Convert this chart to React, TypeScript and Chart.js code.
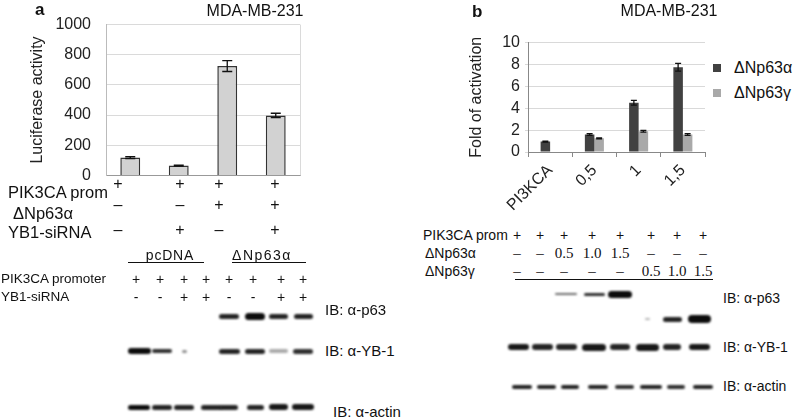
import React, { useEffect, useRef } from "react";
import { Chart, registerables } from "chart.js";

Chart.register(...registerables);

// ---------- data ----------
const lucCategories = ["1", "2", "3", "4"];
const lucValues = [118, 65, 725, 398];
const lucErrors = [6, 3, 36, 14];
const lucTicks = [0, 200, 400, 600, 800, 1000];

const foldCategories = ["PI3KCA", "0,5", "1", "1,5"];
const foldAlpha = [0.95, 1.6, 4.5, 7.75];
const foldAlphaErr = [0.05, 0.08, 0.22, 0.35];
const foldGamma = [null, 1.25, 1.9, 1.6];
const foldGammaErr = [null, 0.05, 0.08, 0.08];
const seriesNames = ["ΔNp63α", "ΔNp63γ"];

const tableARows = ["PIK3CA prom", "ΔNp63α", "YB1-siRNA"];
const tableAValues = [
  ["+", "+", "+", "+"],
  ["–", "–", "+", "+"],
  ["–", "+", "–", "+"],
];
const blotAGroups = ["pcDNA", "ΔNp63α"];
const blotARows = ["PIK3CA promoter", "YB1-siRNA"];
const blotAValues = [
  ["+", "+", "+", "+", "+", "+", "+", "+"],
  ["-", "-", "+", "+", "-", "-", "+", "+"],
];
const blotBRows = ["PIK3CA prom", "ΔNp63α", "ΔNp63γ"];
const blotBValues = [
  ["+", "+", "+", "+", "+", "+", "+", "+"],
  ["–", "–", "0.5", "1.0", "1.5", "–", "–", "–"],
  ["–", "–", "–", "–", "–", "0.5", "1.0", "1.5"],
];
// band: [intensity, thickness, width]
const bandsA_p63 = [null, null, null, null, [0.9, 5, 20], [1, 7, 20], [0.9, 5, 19], [0.9, 5, 19]];
const bandsA_yb1 = [[1, 6, 23], [0.85, 4, 20], [0.45, 3, 5], null, [0.9, 5, 21], [0.9, 5, 20], [0.35, 4, 19], [0.85, 5, 20]];
const bandsA_actin = [[1, 5, 22], [0.9, 5, 20], [0.9, 5, 20], [0.9, 5, 21], [0.9, 5, 18], [0.9, 5, 17], [0.95, 6, 19], [0.95, 6, 22]];
const bandsB_p63a = [null, null, [0.6, 2, 22], [0.85, 3, 21], [1, 7, 24], null, null, null];
const bandsB_p63g = [null, null, null, null, null, [0.3, 2, 5], [0.9, 5, 19], [1, 8, 23]];
const bandsB_yb1 = [[0.95, 6, 21], [0.9, 6, 21], [0.9, 6, 21], [0.95, 7, 24], [0.9, 6, 20], [0.95, 7, 23], [0.9, 6, 18], [0.95, 6, 21]];
const bandsB_actin = [[0.9, 4, 20], [0.9, 4, 19], [0.9, 4, 18], [0.9, 4, 20], [0.85, 4, 19], [0.9, 4, 22], [0.85, 4, 18], [0.9, 4, 20]];

// ---------- layout ----------
const FONT = "'Liberation Sans', Arial, sans-serif";
const SERIF = "'Liberation Serif', 'Times New Roman', serif";
const tableAX = [118, 180, 219, 275];
const laneAX = [136, 160, 184, 206, 229, 253, 281, 303];
const bandAX = [139, 162, 184, 211, 229, 255, 278, 303];
const laneBX = [517, 540, 564, 592, 620, 651, 677, 703];
const bandBX = [518, 542, 566, 594, 620, 647, 672, 699];

const errorBarPlugin = {
  id: "errorBars",
  afterDatasetsDraw(chart: any) {
    const ctx = chart.ctx;
    const yScale = chart.scales.y;
    chart.data.datasets.forEach((ds: any, di: number) => {
      if (!ds.errors) return;
      const meta = chart.getDatasetMeta(di);
      meta.data.forEach((bar: any, i: number) => {
        const v = ds.data[i];
        const e = ds.errors[i];
        if (v == null || e == null) return;
        const x = bar.x;
        const yTop = yScale.getPixelForValue(v + e);
        const yBot = yScale.getPixelForValue(v - e);
        const cap = ds.capWidth || 3;
        ctx.save();
        ctx.strokeStyle = "#111";
        ctx.lineWidth = 1.3;
        ctx.beginPath();
        ctx.moveTo(x, yTop);
        ctx.lineTo(x, yBot);
        ctx.moveTo(x - cap, yTop);
        ctx.lineTo(x + cap, yTop);
        ctx.moveTo(x - cap, yBot);
        ctx.lineTo(x + cap, yBot);
        ctx.stroke();
        ctx.restore();
      });
    });
  },
};

const rightBorderPlugin = {
  id: "rightBorder",
  beforeDatasetsDraw(chart: any) {
    const { ctx, chartArea } = chart;
    ctx.save();
    ctx.strokeStyle = "#dadada";
    ctx.lineWidth = 1;
    ctx.beginPath();
    ctx.moveTo(Math.round(chartArea.right) + 0.5, chartArea.top);
    ctx.lineTo(Math.round(chartArea.right) + 0.5, chartArea.bottom);
    ctx.stroke();
    ctx.restore();
  },
};

function LuciferaseChart() {
  const ref = useRef<HTMLCanvasElement>(null);
  useEffect(() => {
    const chart = new Chart(ref.current as HTMLCanvasElement, {
      type: "bar",
      data: {
        labels: lucCategories,
        datasets: [
          {
            data: lucValues,
            backgroundColor: "#d2d2d2",
            borderColor: "#333",
            borderWidth: 1.5,
            barPercentage: 0.41,
            categoryPercentage: 1,
            errors: lucErrors,
            capWidth: 5,
          } as any,
        ],
      },
      options: {
        animation: false,
        responsive: false,
        maintainAspectRatio: false,
        layout: { padding: { top: 10, right: 5, bottom: 10, left: 0 } },
        plugins: { legend: { display: false }, tooltip: { enabled: false } },
        scales: {
          x: {
            ticks: { display: false },
            grid: { display: false },
            border: { color: "#999", width: 1 },
            afterFit: (s: any) => { s.height = 0; },
          },
          y: {
            min: 0,
            max: 1000,
            afterBuildTicks: (s: any) => { s.ticks = lucTicks.map((v) => ({ value: v })); },
            ticks: { font: { family: FONT, size: 16 }, color: "#222", padding: 15, callback: (v: any) => String(v) },
            grid: { color: "#dadada", drawTicks: false },
            border: { color: "#bbb" },
            title: { display: true, text: "Luciferase activity", font: { family: FONT, size: 16 }, color: "#222", padding: { top: 2, bottom: 0 } },
            afterFit: (s: any) => { s.width = 80; },
          },
        },
      } as any,
      plugins: [errorBarPlugin, rightBorderPlugin],
    });
    return () => chart.destroy();
  }, []);
  return <canvas ref={ref} width={279} height={200} style={{ position: "absolute", left: 26, top: 0 }} />;
}

function FoldChart() {
  const ref = useRef<HTMLCanvasElement>(null);
  useEffect(() => {
    const chart = new Chart(ref.current as HTMLCanvasElement, {
      type: "bar",
      data: {
        labels: foldCategories,
        datasets: [
          {
            label: seriesNames[0],
            data: foldAlpha,
            backgroundColor: "#414141",
            barPercentage: 1,
            categoryPercentage: 0.43,
            errors: foldAlphaErr,
            capWidth: 3,
          } as any,
          {
            label: seriesNames[1],
            data: foldGamma,
            backgroundColor: "#a9a9a9",
            barPercentage: 1,
            categoryPercentage: 0.43,
            errors: foldGammaErr,
            capWidth: 3,
          } as any,
        ],
      },
      options: {
        animation: false,
        responsive: false,
        maintainAspectRatio: false,
        layout: { padding: { top: 10, right: 5, bottom: 0, left: 0 } },
        plugins: { legend: { display: false }, tooltip: { enabled: false } },
        scales: {
          x: {
            ticks: { font: { family: FONT, size: 16 }, color: "#222", minRotation: 45, maxRotation: 45, padding: 4, autoSkip: false },
            grid: { display: true, drawOnChartArea: false, drawTicks: true, tickLength: 5, color: "#888" },
            border: { color: "#888" },
            afterFit: (s: any) => { s.height = 61; },
          },
          y: {
            min: 0,
            max: 10,
            ticks: { stepSize: 2, autoSkip: false, font: { family: FONT, size: 16 }, color: "#222", padding: 5 },
            grid: { color: "#d9d9d9", tickLength: 3 },
            border: { color: "#888" },
            title: { display: true, text: "Fold of activation", font: { family: FONT, size: 16 }, color: "#222", padding: { top: 5, bottom: 0 } },
            afterFit: (s: any) => { s.width = 66; },
          },
        },
      } as any,
      plugins: [errorBarPlugin],
    });
    return () => chart.destroy();
  }, []);
  return <canvas ref={ref} width={248} height={185} style={{ position: "absolute", left: 462, top: 28 }} />;
}

function T({ x, y, children, size = 16, align = "left", bold = false, family = FONT, spacing = 0 }: any) {
  const tx = align === "center" ? "-50%" : align === "right" ? "-100%" : "0";
  return (
    <div
      style={{
        position: "absolute",
        left: x,
        top: y,
        transform: `translate(${tx}, -50%)`,
        fontFamily: family,
        fontSize: size,
        fontWeight: bold ? "bold" : "normal",
        color: "#111",
        whiteSpace: "nowrap",
        lineHeight: 1,
        letterSpacing: spacing,
      }}
    >
      {children}
    </div>
  );
}

function Bands({ row, xs, y }: any) {
  return (
    <>
      {row.map((b: any, i: number) =>
        b ? (
          <div
            key={i}
            style={{
              position: "absolute",
              left: xs[i] - b[2] / 2,
              top: y - b[1] / 2,
              width: b[2],
              height: b[1],
              background: `rgba(12,12,12,${b[0]})`,
              borderRadius: b[1] / 2,
              filter: "blur(0.9px)",
            }}
          />
        ) : null
      )}
    </>
  );
}

export default function App() {
  const rowAY = [184, 205, 230];
  const rowALabelY = [192, 213, 232];
  const rowALabelX = [8, 13, 8];
  const rowBY = [235, 253, 271];
  return (
    <div style={{ position: "absolute", left: 0, top: 0, width: 800, height: 417, background: "#fff", overflow: "hidden" }}>
      <LuciferaseChart />
      <FoldChart />

      <T x={35} y={9} bold size={17}>a</T>
      <T x={255} y={11} align="center" size={16}>MDA-MB-231</T>
      <T x={472} y={11} bold size={17}>b</T>
      <T x={669} y={11} align="center" size={16}>MDA-MB-231</T>

      {/* legend b */}
      {seriesNames.map((n, i) => (
        <React.Fragment key={n}>
          <div style={{ position: "absolute", left: 713, top: 64 + i * 25, width: 8, height: 8, background: i === 0 ? "#414141" : "#a9a9a9" }} />
          <T x={734} y={68 + i * 25} size={16}>{n}</T>
        </React.Fragment>
      ))}

      {/* table a */}
      {tableARows.map((r, ri) => (
        <React.Fragment key={r}>
          <T x={rowALabelX[ri]} y={rowALabelY[ri]} size={16.5}>{r}</T>
          {tableAValues[ri].map((v, ci) => (
            <T key={ci} x={tableAX[ci]} y={rowAY[ri]} align="center" size={16}>{v}</T>
          ))}
        </React.Fragment>
      ))}

      {/* blot a header */}
      <T x={170} y={255} align="center" size={14} spacing={0.8}>{blotAGroups[0]}</T>
      <T x={262} y={255} align="center" size={14} spacing={1.5}>{blotAGroups[1]}</T>
      <div style={{ position: "absolute", left: 128, top: 262, width: 76, height: 1, background: "#111" }} />
      <div style={{ position: "absolute", left: 232, top: 262, width: 74, height: 1, background: "#111" }} />
      {blotARows.map((r, ri) => (
        <React.Fragment key={r}>
          <T x={1} y={279 + ri * 18} size={13.5}>{r}</T>
          {blotAValues[ri].map((v, ci) => (
            <T key={ci} x={laneAX[ci]} y={279 + ri * 18} align="center" size={14}>{v}</T>
          ))}
        </React.Fragment>
      ))}
      <Bands row={bandsA_p63} xs={bandAX} y={316} />
      <Bands row={bandsA_yb1} xs={bandAX} y={351} />
      <Bands row={bandsA_actin} xs={bandAX} y={407} />
      <T x={325} y={309} size={15}>IB: α-p63</T>
      <T x={325} y={350} size={15}>IB: α-YB-1</T>
      <T x={333} y={411} size={15}>IB: α-actin</T>

      {/* blot b */}
      {blotBRows.map((r, ri) => (
        <React.Fragment key={r}>
          <T x={ri === 0 ? 423 : 425} y={rowBY[ri]} size={14}>{r}</T>
          {blotBValues[ri].map((v, ci) => (
            <T key={ci} x={laneBX[ci]} y={rowBY[ri]} align="center" size={v === "+" ? 14 : 15} family={v === "+" ? FONT : SERIF}>{v}</T>
          ))}
        </React.Fragment>
      ))}
      <div style={{ position: "absolute", left: 515, top: 279, width: 198, height: 1, background: "#111" }} />
      <Bands row={bandsB_p63a} xs={bandBX} y={294} />
      <Bands row={bandsB_p63g} xs={bandBX} y={319} />
      <Bands row={bandsB_yb1} xs={bandBX} y={347} />
      <Bands row={bandsB_actin} xs={bandBX.map((x) => x + 4)} y={387} />
      <T x={723} y={298} size={14}>IB: α-p63</T>
      <T x={723} y={347} size={14}>IB: α-YB-1</T>
      <T x={723} y={386} size={14}>IB: α-actin</T>
    </div>
  );
}
